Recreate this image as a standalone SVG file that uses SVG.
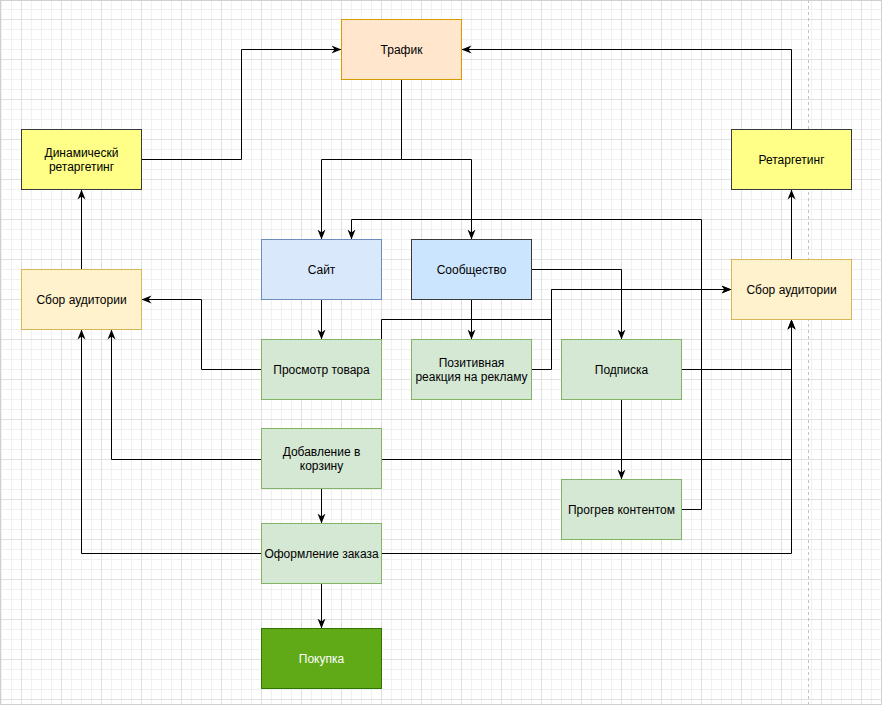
<svg xmlns="http://www.w3.org/2000/svg" width="882" height="705" viewBox="0 0 882 705">
<defs>
<pattern id="grid" patternUnits="userSpaceOnUse" x="21" y="19" width="40" height="40">
<path d="M10.5 0V40M20.5 0V40M30.5 0V40M0 10.5H40M0 20.5H40M0 30.5H40" stroke="#f0f0f0" stroke-width="1" fill="none"/>
<path d="M0.5 0V40M0 0.5H40" stroke="#e0e0e0" stroke-width="1" fill="none"/>
</pattern>
<marker id="arr" viewBox="0 0 10 10" refX="10" refY="5" markerWidth="10" markerHeight="10" markerUnits="userSpaceOnUse" orient="auto">
<path d="M0 1 L10 5 L0 9 L3 5 Z" fill="#000"/>
</marker>
<style>
.n rect{stroke-width:1}
.t{font-family:"Liberation Sans",Arial,sans-serif;font-size:12px;fill:#000;text-anchor:middle}
.e path{fill:none;stroke:#000;stroke-width:1}
.a{marker-end:url(#arr)}
</style>
</defs>
<rect x="0" y="0" width="882" height="705" fill="#fff"/>
<rect x="0" y="0" width="882" height="705" fill="url(#grid)"/>
<line x1="808.5" y1="0" x2="808.5" y2="705" stroke="#c0c0c0" stroke-dasharray="3 3"/>
<rect x="0.5" y="0.5" width="881" height="704" fill="none" stroke="#d0d0d0"/>

<g id="edges" class="e">
<path class="a" d="M141.5 159.5H241.5V49.5H341.5"/>
<path class="a" d="M791.5 129.5V49.5H461.5"/>
<path class="a" d="M401.5 79.5V159.5H321.5V239.5"/>
<path class="a" d="M401.5 159.5H471.5V239.5"/>
<path class="a" d="M681.5 509.5H701.5V219.5H351.5V239.5"/>
<path class="a" d="M321.5 299.5V339.5"/>
<path class="a" d="M471.5 299.5V339.5"/>
<path class="a" d="M531.5 269.5H621.5V339.5"/>
<path class="a" d="M381.5 339.5V319.5H551.5V289.5H731.5"/>
<path class="a" d="M531.5 369.5H551.5V289.5H731.5"/>
<path class="a" d="M261.5 369.5H201.5V299.5H141.5"/>
<path class="a" d="M681.5 369.5H791.5V319.5"/>
<path class="a" d="M621.5 399.5V479.5"/>
<path class="a" d="M261.5 459.5H111.5V329.5"/>
<path class="a" d="M381.5 459.5H791.5V319.5"/>
<path class="a" d="M261.5 553.5H81.5V329.5"/>
<path class="a" d="M381.5 553.5H791.5V319.5"/>
<path class="a" d="M321.5 488.5V523.5"/>
<path class="a" d="M321.5 583.5V628.5"/>
<path class="a" d="M81.5 269.5V189.5"/>
<path class="a" d="M791.5 259.5V189.5"/>
</g>

<g id="traffic" class="n"><rect x="341.5" y="19.5" width="120" height="60" fill="#ffe6cc" stroke="#d79b00"/><text class="t" x="401.5" y="53.5">Трафик</text></g>
<g id="dyn-retarget" class="n"><rect x="21.5" y="129.5" width="120" height="60" fill="#ffff88" stroke="#36393d"/><text class="t" x="81.5" y="156.5">Динамическй</text><text class="t" x="81.5" y="171">ретаргетинг</text></g>
<g id="retarget" class="n"><rect x="731.5" y="129.5" width="120" height="60" fill="#ffff88" stroke="#36393d"/><text class="t" x="791.5" y="163.5">Ретаргетинг</text></g>
<g id="audience-left" class="n"><rect x="21.5" y="269.5" width="120" height="60" fill="#fff2cc" stroke="#d6b656"/><text class="t" x="81.5" y="303.5">Сбор аудитории</text></g>
<g id="site" class="n"><rect x="261.5" y="239.5" width="120" height="60" fill="#dae8fc" stroke="#6c8ebf"/><text class="t" x="321.5" y="273.5">Сайт</text></g>
<g id="community" class="n"><rect x="411.5" y="239.5" width="120" height="60" fill="#cce5ff" stroke="#36393d"/><text class="t" x="471.5" y="273.5">Сообщество</text></g>
<g id="audience-right" class="n"><rect x="731.5" y="259.5" width="120" height="60" fill="#fff2cc" stroke="#d6b656"/><text class="t" x="791.5" y="293.5">Сбор аудитории</text></g>
<g id="view" class="n"><rect x="261.5" y="339.5" width="120" height="60" fill="#d5e8d4" stroke="#82b366"/><text class="t" x="321.5" y="373.5">Просмотр товара</text></g>
<g id="positive" class="n"><rect x="411.5" y="339.5" width="120" height="60" fill="#d5e8d4" stroke="#82b366"/><text class="t" x="471.5" y="366.5">Позитивная</text><text class="t" x="471.5" y="381">реакция на рекламу</text></g>
<g id="subscribe" class="n"><rect x="561.5" y="339.5" width="120" height="60" fill="#d5e8d4" stroke="#82b366"/><text class="t" x="621.5" y="373.5">Подписка</text></g>
<g id="cart" class="n"><rect x="261.5" y="428.5" width="120" height="60" fill="#d5e8d4" stroke="#82b366"/><text class="t" x="321.5" y="455.5">Добавление в</text><text class="t" x="321.5" y="470">корзину</text></g>
<g id="warmup" class="n"><rect x="561.5" y="479.5" width="120" height="60" fill="#d5e8d4" stroke="#82b366"/><text class="t" x="621.5" y="513.5">Прогрев контентом</text></g>
<g id="checkout" class="n"><rect x="261.5" y="523.5" width="120" height="60" fill="#d5e8d4" stroke="#82b366"/><text class="t" x="321.5" y="557.5">Оформление заказа</text></g>
<g id="purchase" class="n"><rect x="261.5" y="628.5" width="120" height="60" fill="#60a917" stroke="#2d7600"/><text class="t" x="321.5" y="662.5" style="fill:#fff">Покупка</text></g>
</svg>
